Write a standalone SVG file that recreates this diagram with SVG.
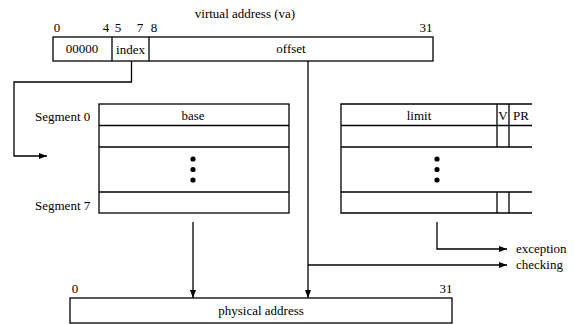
<svg xmlns="http://www.w3.org/2000/svg" width="575" height="324" viewBox="0 0 575 324" font-family="Liberation Serif, Tinos, Nimbus Roman, DejaVu Serif, serif" font-size="13">
  <defs>
    <marker id="arrow" markerWidth="8" markerHeight="6" refX="8" refY="3" orient="auto" markerUnits="userSpaceOnUse">
      <path d="M0,0 L8,3 L0,6 Z" fill="#000"/>
    </marker>
  </defs>
  <style>
    text { font-family: "Liberation Serif", Tinos, "Nimbus Roman", "DejaVu Serif", serif; font-size: 13px; fill: #000; }
    .c { text-anchor: middle; }
    .box { fill: #fff; stroke: #000; stroke-width: 1.3; }
    .ln { fill: none; stroke: #000; stroke-width: 1.3; }
    .wire { fill: none; stroke: #000; stroke-width: 1.3; marker-end: url(#arrow); }
  </style>
  <rect width="575" height="324" fill="#fff"/>

  <!-- virtual address register -->
  <g id="virtual-address">
    <text class="c" x="245" y="18">virtual address (va)</text>
    <text class="c" x="57" y="32">0</text>
    <text class="c" x="106" y="32">4</text>
    <text class="c" x="118" y="32">5</text>
    <text class="c" x="140" y="32">7</text>
    <text class="c" x="154" y="32">8</text>
    <text class="c" x="426" y="32">31</text>
    <rect class="box" x="53" y="37" width="380" height="24"/>
    <line class="ln" x1="112" y1="37" x2="112" y2="61"/>
    <line class="ln" x1="149" y1="37" x2="149" y2="61"/>
    <text class="c" x="82" y="53">00000</text>
    <text class="c" x="130.5" y="54">index</text>
    <text class="c" x="291" y="53">offset</text>
  </g>

  <!-- segment base table -->
  <g id="base-table">
    <text x="35" y="121">Segment 0</text>
    <text x="35" y="210">Segment 7</text>
    <rect class="box" x="99" y="104" width="190" height="109"/>
    <line class="ln" x1="99" y1="125.5" x2="289" y2="125.5"/>
    <line class="ln" x1="99" y1="147" x2="289" y2="147"/>
    <line class="ln" x1="99" y1="192" x2="289" y2="192"/>
    <text class="c" x="193" y="120">base</text>
    <circle cx="193" cy="159" r="2.6"/>
    <circle cx="193" cy="169.5" r="2.6"/>
    <circle cx="193" cy="180" r="2.6"/>
  </g>

  <!-- segment limit table with V and PR columns (open on the right) -->
  <g id="limit-table">
    <path class="ln" d="M532,104 H341 V213 H532"/>
    <line class="ln" x1="341" y1="125.5" x2="532" y2="125.5"/>
    <line class="ln" x1="341" y1="147" x2="532" y2="147"/>
    <line class="ln" x1="341" y1="192" x2="532" y2="192"/>
    <line class="ln" x1="497" y1="104" x2="497" y2="147"/>
    <line class="ln" x1="509" y1="104" x2="509" y2="147"/>
    <line class="ln" x1="497" y1="192" x2="497" y2="213"/>
    <line class="ln" x1="509" y1="192" x2="509" y2="213"/>
    <text class="c" x="419" y="120">limit</text>
    <text class="c" x="503" y="120">V</text>
    <text class="c" x="521" y="120">PR</text>
    <circle cx="437" cy="159" r="2.6"/>
    <circle cx="437" cy="169.5" r="2.6"/>
    <circle cx="437" cy="180" r="2.6"/>
  </g>

  <!-- exception checking outputs -->
  <g id="exception-checking">
    <text x="516" y="253">exception</text>
    <text x="516" y="269">checking</text>
  </g>

  <!-- physical address register -->
  <g id="physical-address">
    <text class="c" x="75" y="293">0</text>
    <text class="c" x="446" y="293">31</text>
    <rect class="box" x="70" y="298" width="382" height="25"/>
    <text class="c" x="261" y="315">physical address</text>
  </g>

  <!-- connectors -->
  <g id="connectors">
    <polyline class="wire" points="131.5,61 131.5,82 14,82 14,156 47,156"/>
    <line class="wire" x1="193" y1="222" x2="193" y2="298"/>
    <line class="wire" x1="308" y1="61" x2="308" y2="298"/>
    <polyline class="wire" points="308,265 507,265"/>
    <polyline class="wire" points="437,222 437,249 507,249"/>
  </g>
</svg>
